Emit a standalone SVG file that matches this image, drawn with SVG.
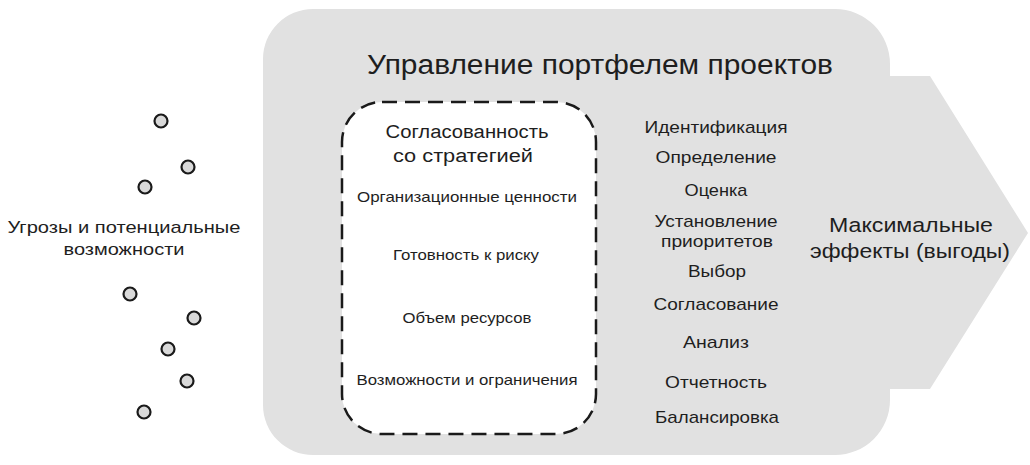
<svg xmlns="http://www.w3.org/2000/svg" width="1030" height="465" viewBox="0 0 1030 465">
<style>
text{font-family:"Liberation Sans",Arial,sans-serif;fill:#1e1e1e;text-anchor:middle}
.dot{fill:#d9d9d9;stroke:#1a1a1a;stroke-width:2.2}
.lst{font-size:17px}
.inr{font-size:14.5px}
</style>
<rect width="1030" height="465" fill="#fff"/>
<g id="portfolio">
<path d="M313,9 H835 A55,55 0 0 1 890,64 V76 H930 L1028,233 L930,389 H890 V400 A55,55 0 0 1 835,455 H313 A50,50 0 0 1 263,405 V59 A50,50 0 0 1 313,9 Z" fill="#e1e1e1"/>
<text x="600" y="74" font-size="27" textLength="466" lengthAdjust="spacingAndGlyphs">Управление портфелем проектов</text>
</g>
<g id="alignment">
<rect x="342" y="102" width="254" height="332" rx="40" ry="40" fill="#fff" stroke="#1a1a1a" stroke-width="2.5" stroke-dasharray="15 8"/>
<text x="467" y="138" font-size="18" textLength="163" lengthAdjust="spacingAndGlyphs">Согласованность</text>
<text x="463" y="162" font-size="18" textLength="140" lengthAdjust="spacingAndGlyphs">со стратегией</text>
<text class="inr" x="467" y="202" textLength="220" lengthAdjust="spacingAndGlyphs">Организационные ценности</text>
<text class="inr" x="466" y="260" textLength="146" lengthAdjust="spacingAndGlyphs">Готовность к риску</text>
<text class="inr" x="467" y="323" textLength="129" lengthAdjust="spacingAndGlyphs">Объем ресурсов</text>
<text class="inr" x="467" y="385" textLength="221" lengthAdjust="spacingAndGlyphs">Возможности и ограничения</text>
</g>
<g id="processes">
<text class="lst" x="716" y="133" textLength="143" lengthAdjust="spacingAndGlyphs">Идентификация</text>
<text class="lst" x="716" y="163" textLength="121" lengthAdjust="spacingAndGlyphs">Определение</text>
<text class="lst" x="716" y="196" textLength="63" lengthAdjust="spacingAndGlyphs">Оценка</text>
<text class="lst" x="716" y="227" textLength="123" lengthAdjust="spacingAndGlyphs">Установление</text>
<text class="lst" x="717" y="247" textLength="112" lengthAdjust="spacingAndGlyphs">приоритетов</text>
<text class="lst" x="717" y="277" textLength="58" lengthAdjust="spacingAndGlyphs">Выбор</text>
<text class="lst" x="716" y="310" textLength="125" lengthAdjust="spacingAndGlyphs">Согласование</text>
<text class="lst" x="716" y="348" textLength="66" lengthAdjust="spacingAndGlyphs">Анализ</text>
<text class="lst" x="716" y="388" textLength="102" lengthAdjust="spacingAndGlyphs">Отчетность</text>
<text class="lst" x="717" y="423" textLength="124" lengthAdjust="spacingAndGlyphs">Балансировка</text>
</g>
<g id="benefits">
<text x="911" y="232" font-size="20.5" textLength="164" lengthAdjust="spacingAndGlyphs">Максимальные</text>
<text x="910" y="258" font-size="20.5" textLength="200" lengthAdjust="spacingAndGlyphs">эффекты (выгоды)</text>
</g>
<g id="threats">
<text x="124" y="233" font-size="17" textLength="233" lengthAdjust="spacingAndGlyphs">Угрозы и потенциальные</text>
<text x="124" y="255" font-size="17" textLength="121" lengthAdjust="spacingAndGlyphs">возможности</text>
<circle class="dot" cx="161" cy="121" r="6.5"/>
<circle class="dot" cx="188" cy="167" r="6.5"/>
<circle class="dot" cx="145" cy="187" r="6.5"/>
<circle class="dot" cx="130" cy="294" r="6.5"/>
<circle class="dot" cx="194" cy="318" r="6.5"/>
<circle class="dot" cx="168" cy="349" r="6.5"/>
<circle class="dot" cx="187" cy="381" r="6.5"/>
<circle class="dot" cx="144" cy="412" r="6.5"/>
</g>
<g id="connectors"></g>
</svg>
